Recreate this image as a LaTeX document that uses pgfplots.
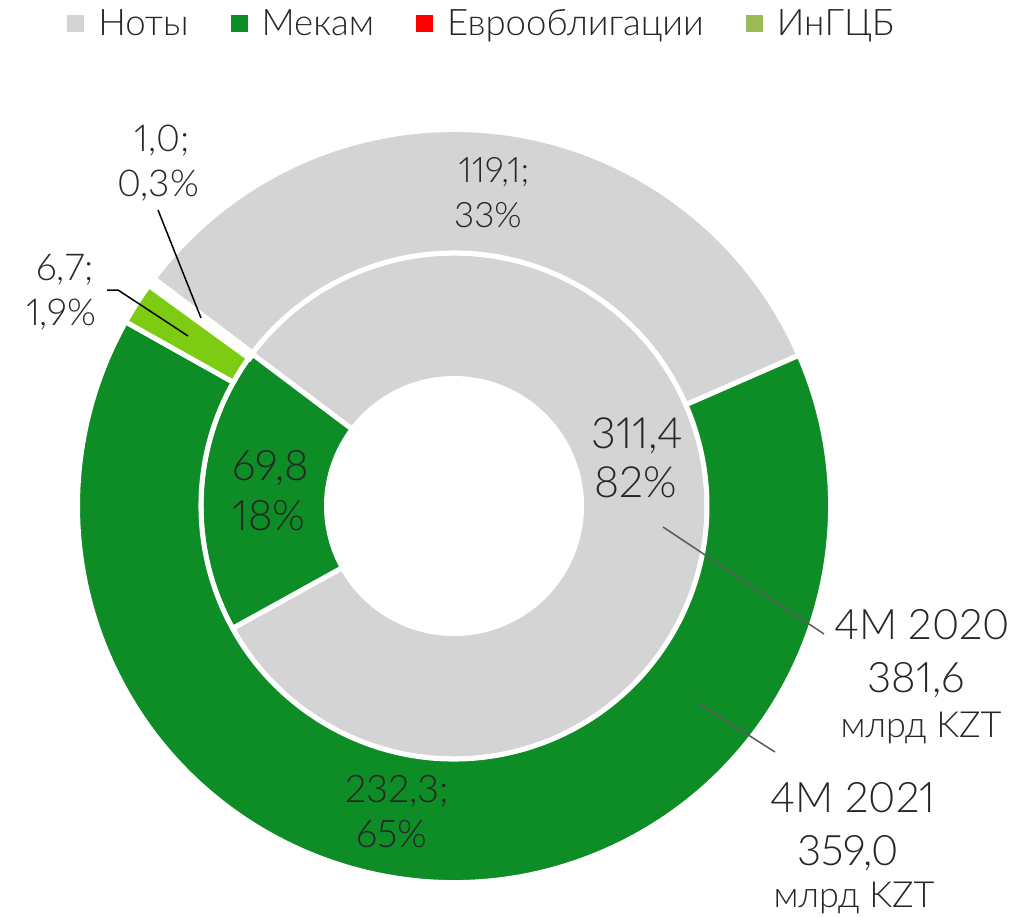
\documentclass[border=0pt]{standalone}
\usepackage{pgfplots}
\pgfplotsset{compat=1.18}
\usepackage{pgfplotstable}
\usepackage{fontspec}
\setmainfont{Lato}[UprightFont=* Light, Numbers=Proportional]
\definecolor{noty}{HTML}{D4D4D4}
\definecolor{mekam}{HTML}{0E8C26}
\definecolor{euro}{HTML}{FF0000}
\definecolor{ingcb}{HTML}{7ECB14}
\definecolor{ingcbleg}{HTML}{9BBB59}
\definecolor{txt}{HTML}{262626}
\definecolor{lead}{HTML}{595959}
% outer ring: 4M 2021 (Ноты, Мекам, ИнГЦБ, Еврооблигации)
\pgfplotstableread{
segment value
1 119.1
2 232.3
3 6.7
4 1.0
}\outerring
% inner ring: 4M 2020 (Ноты, Мекам)
\pgfplotstableread{
segment value
1 311.4
2 69.8
}\innerring
\newcommand\seg[6]{% start, end, r_in, r_out, fill, border
  \fill[#5,draw=white,line width=#6,shift={(axis cs:454,411)}]
    (#1:#4) arc[start angle=#1,end angle=#2,radius=#4]
    -- (#2:#3) arc[start angle=#2,end angle=#1,radius=#3] -- cycle;}
\begin{document}
\begin{tikzpicture}
\pgfplotstablegetelem{0}{value}\of\outerring \edef\oA{\pgfplotsretval}
\pgfplotstablegetelem{1}{value}\of\outerring \edef\oB{\pgfplotsretval}
\pgfplotstablegetelem{2}{value}\of\outerring \edef\oC{\pgfplotsretval}
\pgfplotstablegetelem{3}{value}\of\outerring \edef\oD{\pgfplotsretval}
\pgfplotstablegetelem{0}{value}\of\innerring \edef\iA{\pgfplotsretval}
\pgfplotstablegetelem{1}{value}\of\innerring \edef\iB{\pgfplotsretval}
\pgfmathsetmacro\oT{\oA+\oB+\oC+\oD}
\pgfmathsetmacro\iT{\iA+\iB}
\pgfmathsetmacro\oa{143}
\pgfmathsetmacro\ob{\oa-360*(\oA/\oT)}
\pgfmathsetmacro\oc{\ob-360*(\oB/\oT)}
\pgfmathsetmacro\od{\oc-360*(\oC/\oT)}
\pgfmathsetmacro\oe{\od-360*(\oD/\oT)}
\pgfmathsetmacro\ia{143}
\pgfmathsetmacro\ib{\ia-360*(\iA/\iT)}
\pgfmathsetmacro\ic{\ib-360*(\iB/\iT)}
\begin{axis}[
  x=0.5pt, y=0.5pt, xmin=0, xmax=1036, ymin=0, ymax=917,
  hide axis, clip=false,
  legend style={at={(axis cs:67,893)}, anchor=west, draw=none, fill=none,
    inner sep=0pt, legend columns=-1, font=\fontsize{18.3}{20}\selectfont,
    text=txt, nodes={inner xsep=0pt, inner ysep=1pt},
    /tikz/every odd column/.append style={column sep=7pt},
    /tikz/every even column/.append style={column sep=21pt}},
  legend image code/.code={\fill[#1,draw=none] (0pt,-4.25pt) rectangle (8.5pt,4.25pt);},
]
\addlegendimage{fill=noty}\addlegendentry{Ноты}
\addlegendimage{fill=mekam}\addlegendentry{Мекам}
\addlegendimage{fill=euro}\addlegendentry{Еврооблигации}
\addlegendimage{fill=ingcbleg}\addlegendentry{ИнГЦБ}
% inner ring
\seg{\ia}{\ib}{63.75pt}{126.5pt}{noty}{2.5pt}
\seg{\ib}{\ic}{63.75pt}{126.5pt}{mekam}{2.5pt}
% outer ring
\seg{\oa}{\ob}{126.5pt}{188.25pt}{noty}{2.5pt}
\seg{\ob}{\oc}{126.5pt}{188.25pt}{mekam}{2.5pt}
\seg{\oc}{\od}{126.5pt}{188.25pt}{ingcb}{2.5pt}
\seg{\od}{\oe}{126.5pt}{188.25pt}{euro}{3.5pt}
% leader lines
\addplot[black, line width=0.75pt, forget plot] coordinates {(158,707) (201,599)};
\addplot[black, line width=0.75pt, forget plot] coordinates {(107,627) (118,627) (188,581)};
\addplot[lead, line width=0.75pt, forget plot] coordinates {(663,390) (824,283)};
\addplot[lead, line width=0.75pt, forget plot] coordinates {(698,214) (775,165)};
% labels
\begin{scope}[every node/.style={text=txt, inner sep=0pt}]
\node[anchor=base, font=\fontsize{17.5}{20}\selectfont] at (axis cs:494,734) {119,1;};
\node[anchor=base, font=\fontsize{17.5}{20}\selectfont] at (axis cs:488,689) {33\%};
\node[anchor=base, font=\fontsize{18.5}{22}\selectfont] at (axis cs:162,765) {1,0;};
\node[anchor=base, font=\fontsize{18.5}{22}\selectfont] at (axis cs:158,720) {0,3\%};
\node[anchor=base, font=\fontsize{18.5}{22}\selectfont] at (axis cs:65,637) {6,7;};
\node[anchor=base, font=\fontsize{18.5}{22}\selectfont] at (axis cs:61,592) {1,9\%};
\node[anchor=base west, font=\fontsize{21}{24}\selectfont] at (axis cs:232,437) {69,8};
\node[anchor=base west, font=\fontsize{21}{24}\selectfont] at (axis cs:232,387) {18\%};
\node[anchor=base west, font=\fontsize{21.5}{24}\selectfont] at (axis cs:591,469) {311,4};
\node[anchor=base west, font=\fontsize{21.5}{24}\selectfont] at (axis cs:594,420) {82\%};
\node[anchor=base, font=\fontsize{19}{22}\selectfont] at (axis cs:397,115) {232,3;};
\node[anchor=base, font=\fontsize{19}{22}\selectfont] at (axis cs:392,70) {65\%};
\node[anchor=base, font=\fontsize{21}{24}\selectfont] at (axis cs:922,278) {4M 2020};
\node[anchor=base, font=\fontsize{21}{24}\selectfont] at (axis cs:916,225) {381,6};
\node[anchor=base, font=\fontsize{18}{21}\selectfont] at (axis cs:921,180) {млрд KZT};
\node[anchor=base, font=\fontsize{21}{24}\selectfont] at (axis cs:853,105) {4M 2021};
\node[anchor=base, font=\fontsize{21}{24}\selectfont] at (axis cs:848,52) {359,0};
\node[anchor=base, font=\fontsize{18}{21}\selectfont] at (axis cs:854,10) {млрд KZT};
\end{scope}
\end{axis}
\pgfresetboundingbox
\useasboundingbox (0,0) rectangle (518pt,458.5pt);
\end{tikzpicture}
\end{document}
